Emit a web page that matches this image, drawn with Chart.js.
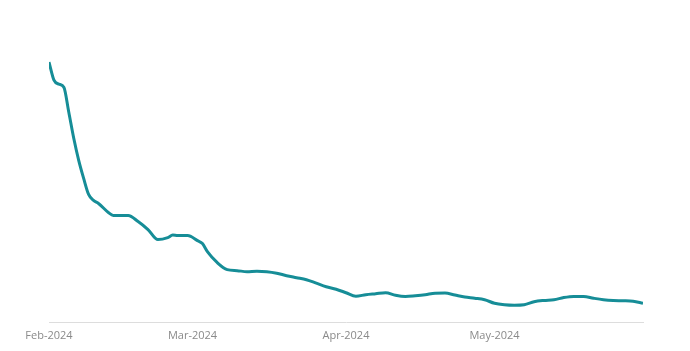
<!DOCTYPE html>
<html>
<head>
<meta charset="utf-8">
<script src="https://cdn.jsdelivr.net/npm/chart.js@4/dist/chart.umd.min.js"></script>
<style>
  html, body { margin: 0; padding: 0; background: #fff; }
  #wrap { width: 690px; height: 351px; }
</style>
</head>
<body>
<div id="wrap"><canvas id="myChart"></canvas></div>
<script>
// days counted from 1 Feb 2024
const days = [0, 1, 2, 3, 4, 5, 6, 7, 8, 9, 10, 12, 13, 14, 16, 18, 20, 22, 24, 25, 26, 28, 30, 31, 32, 34, 36, 38, 40,
  42, 44, 46, 48, 50, 52, 54, 56, 58, 60, 62, 64, 66, 68, 70, 72, 74, 76, 78, 80, 82, 84, 86, 88, 90,
  92, 94, 96, 98, 100, 102, 104, 106, 108, 110, 112, 114, 116, 118, 120];
const values = [260, 242, 238, 235, 210, 184, 162, 144, 128, 122, 119, 110, 107, 107, 107, 101, 93, 83, 85, 87.5, 87, 87, 82, 79, 71, 60, 53, 52, 51,
  51.5, 51, 49.5, 47, 45, 43, 39.5, 36, 33.5, 30, 26.5, 28, 29, 30, 27.5, 26.3, 27, 28, 29.5, 29.7, 27.7, 25.7, 24.5, 23, 19.5,
  18, 17.5, 18, 21, 22.3, 23, 25.2, 26.3, 26.3, 24.5, 23, 22.2, 22, 21.5, 19.5];

const tickDays = [0, 29, 60, 90];
const tickLabels = ['Feb-2024', 'Mar-2024', 'Apr-2024', 'May-2024'];

const points = days.map((d, i) => ({x: d, y: values[i]}));

const config = {
  type: 'line',
  data: {
    datasets: [{
      data: points,
      borderColor: '#168d97',
      borderWidth: 3,
      pointRadius: 0,
      cubicInterpolationMode: 'monotone',
      fill: false
    }]
  },
  options: {
    responsive: true,
    maintainAspectRatio: false,
    animation: false,
    layout: { padding: { left: 49, right: 47, top: 22, bottom: 3 } },
    plugins: { legend: { display: false }, tooltip: { enabled: false } },
    scales: {
      x: {
        type: 'linear',
        min: 0,
        max: 120,
        afterBuildTicks: (axis) => { axis.ticks = tickDays.map(v => ({value: v})); },
        grid: { display: false, drawTicks: false, tickLength: 0 },
        border: { display: true, color: '#dddddd', width: 1 },
        ticks: {
          padding: 6,
          maxRotation: 0,
          autoSkip: false,
          color: '#8a8a8a',
          font: { family: 'Open Sans', size: 11 },
          callback: (v) => tickLabels[tickDays.indexOf(v)]
        }
      },
      y: {
        display: false,
        min: 0,
        max: 300
      }
    }
  }
};

const myChart = new Chart(document.getElementById('myChart'), config);
</script>
</body>
</html>
